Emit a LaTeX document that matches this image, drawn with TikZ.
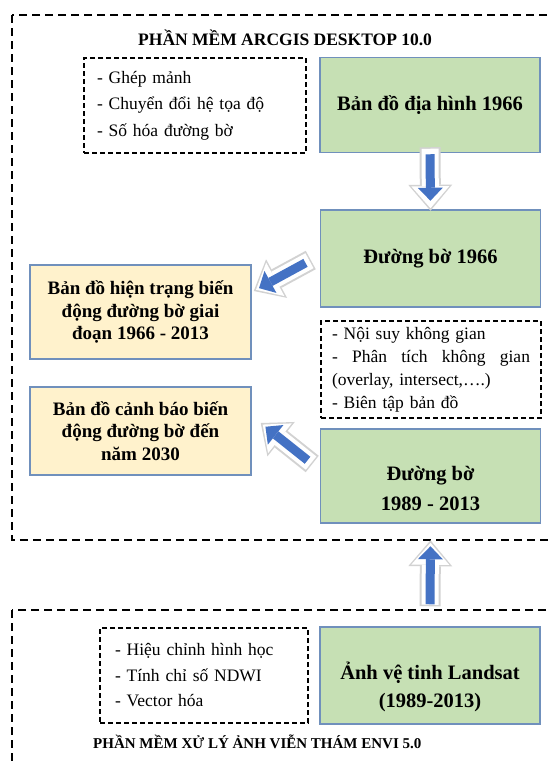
\documentclass[tikz,border=0pt]{standalone}
\usepackage{fontspec}
\setmainfont{Liberation Serif}
\usetikzlibrary{calc,positioning,arrows.meta}
\definecolor{landgreen}{HTML}{C6E0B4}
\definecolor{mapyellow}{HTML}{FFF2CC}
\definecolor{boxline}{HTML}{7090BC}
\definecolor{arrowblue}{HTML}{4472C4}

\begin{document}
\begin{tikzpicture}[x=1pt,y=-1pt]
 \coordinate (origo) at (0,0);
 \useasboundingbox (origo) rectangle (548,761);
 \clip (origo) rectangle (548,761);

\tikzstyle{greenbox}=[draw=boxline,line width=1.5pt,fill=landgreen,minimum width=220pt,minimum height=95pt,align=center,font=\fontsize{20.5}{30}\selectfont\bfseries]
\tikzstyle{greentext}=[align=center,inner sep=0pt,font=\fontsize{20.5}{30}\selectfont\bfseries]
\tikzstyle{mapbox}=[draw=boxline,line width=1.5pt,fill=mapyellow,minimum width=221pt,minimum height=92pt,align=center,font=\fontsize{19}{22.5}\selectfont\bfseries]
\tikzstyle{notebox}=[draw,line width=1.1pt,dash pattern=on 5pt off 3pt,align=left,font=\fontsize{17.5}{26.5}\selectfont]
\tikzstyle{software}=[draw,line width=1.2pt,dash pattern=on 8pt off 5pt]
\tikzstyle{title}=[inner sep=0pt,anchor=west,font=\fontsize{17.5}{20}\selectfont\bfseries]

\tikzstyle{shell}=[gray!35,line width=21pt,-{Triangle[width=44pt,length=26pt,line width=0pt]}]
\tikzstyle{shellin}=[white,line width=17pt,shorten >=2.5pt,shorten <=1.5pt,-{Triangle[width=38pt,length=22pt,line width=0pt]}]
\tikzstyle{flow}=[arrowblue,line width=9pt,-{Triangle[width=25pt,length=13pt,line width=0pt]}]

   %software frames
   \draw[software] ($(origo)+(12,15)$) rectangle ($(origo)+(580,540)$);
   \draw[software] ($(origo)+(12,610)$) rectangle ($(origo)+(580,790)$);

   \node (arcgis_label) [title] at (138,38) {PHẦN MỀM ARCGIS DESKTOP 10.0};
   \node (envi_label) [title,font=\fontsize{15}{20}\selectfont\bfseries] at (93,742) {PHẦN MỀM XỬ LÝ ẢNH VIỄN THÁM ENVI 5.0};

   %arcgis part
   \node (topo_map) [greenbox] at (430,105) {Bản đồ địa hình 1966};
   \node (steps_arcgis) [notebox,text width=196pt,inner xsep=13pt,minimum height=95pt] at (195,105.5) {- Ghép mảnh\\- Chuyển đổi hệ tọa độ\\- Số hóa đường bờ};

   \node (shore_1966) [greenbox,minimum height=97pt] at (430.5,258.5) {Đường bờ 1966};
   \node (status_map) [mapbox,minimum height=94pt] at (140.5,312) {Bản đồ hiện trạng biến\\động đường bờ giai\\đoạn 1966 - 2013};

   \node (steps_analysis) [notebox,text width=198pt,inner xsep=11pt,minimum height=97pt,font=\fontsize{17.5}{23}\selectfont] at (431,369.5) {- Nội suy không gian\\-\hfill Phân\hfill tích\hfill không\hfill gian\\(overlay, intersect,….)\\- Biên tập bản đồ};

   \node (warn_map) [mapbox,minimum height=88pt] at (140.5,431) {Bản đồ cảnh báo biến\\động đường bờ đến\\năm 2030};
   \node (shore_now) [greenbox,minimum height=94pt] at (430.5,476) {};
   \node (shore_now_text) [greentext] at ($(shore_now)+(0,12)$) {Đường bờ\\1989 - 2013};

   %envi part
   \node (landsat) [greenbox,minimum height=97pt] at (430,675.5) {};
   \node (landsat_text) [greentext,font=\fontsize{20.5}{28}\selectfont\bfseries] at ($(landsat)+(0,11)$) {Ảnh vệ tinh Landsat\\(1989-2013)};
   \node (steps_envi) [notebox,text width=178pt,inner xsep=15pt,minimum height=95pt,font=\fontsize{17.5}{25.5}\selectfont] at (204,675.5) {- Hiệu chỉnh hình học\\- Tính chỉ số NDWI\\- Vector hóa};

   %block arrows
   \coordinate (a_tail) at ($(topo_map.south)+(0,-6)$);
   \coordinate (a_tip) at ($(shore_1966.north)+(0,1.5)$);
   \draw[shell] (a_tail) -- (a_tip);
   \draw[shellin] (a_tail) -- (a_tip);
   \draw[flow] ($(a_tail)!7pt!(a_tip)$) -- ($(a_tip)!10pt!(a_tail)$);

   \coordinate (b_tail) at ($(shore_1966.west)+(-9,1.5)$);
   \coordinate (b_tip) at ($(status_map.east)+(2,-21)$);
   \draw[shell] (b_tail) -- (b_tip);
   \draw[shellin] (b_tail) -- (b_tip);
   \draw[flow] ($(b_tail)!6pt!(b_tip)$) -- ($(b_tip)!6pt!(b_tail)$);

   \coordinate (c_tail) at ($(shore_now.west)+(-7.5,-12)$);
   \coordinate (c_tip) at ($(warn_map.east)+(9,-8)$);
   \draw[shell] (c_tail) -- (c_tip);
   \draw[shellin] (c_tail) -- (c_tip);
   \draw[flow] ($(c_tail)!6pt!(c_tip)$) -- ($(c_tip)!6pt!(c_tail)$);

   \coordinate (d_tail) at ($(landsat.north)+(0,-20)$);
   \coordinate (d_tip) at ($(shore_now.south)+(0,16.5)$);
   \draw[shell] (d_tail) -- (d_tip);
   \draw[shellin] (d_tail) -- (d_tip);
   \draw[flow] ($(d_tail)!2pt!(d_tip)$) -- ($(d_tip)!6pt!(d_tail)$);

\end{tikzpicture}
\end{document}
